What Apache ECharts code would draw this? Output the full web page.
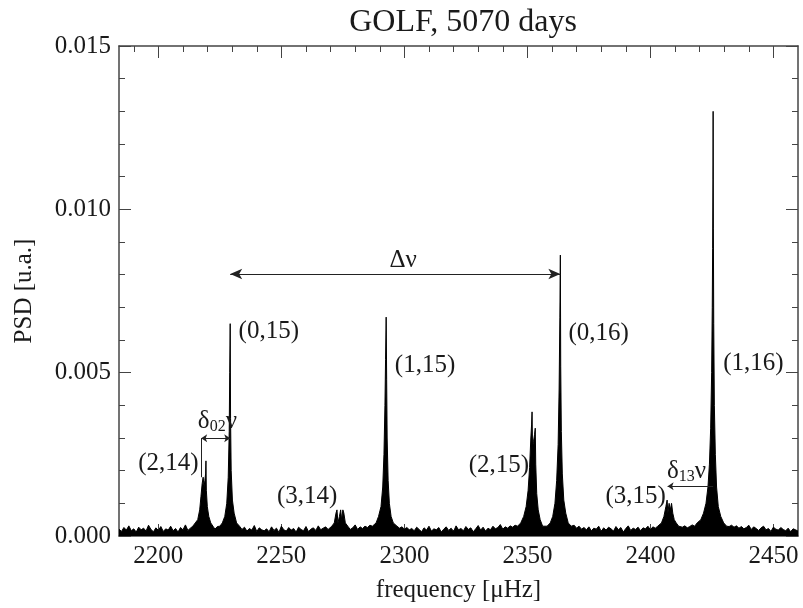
<!DOCTYPE html>
<html lang="en">
<head>
    <meta charset="UTF-8">
    <title>GOLF, 5070 days</title>
    <script src="https://cdn.jsdelivr.net/npm/echarts@6/dist/echarts.min.js"></script>
    <style>
        html, body { margin: 0; padding: 0; background: #fff; }
        #main { width: 803px; height: 608px; }
    </style>
</head>
<body>
<div id="main"></div>
<script type="text/javascript">
    // 背景噪声，每 1 μHz 一个点，从 2184 μHz 开始
    var noiseStart = 2184;
    var noise = [
        0.00021,0.00014,0.00026,0.00018,0.00031,0.00016,0.00022,0.00012,0.00027,0.00019,
        0.00024,0.00015,0.00033,0.00020,0.00013,0.00025,0.00017,0.00029,0.00014,0.00022,
        0.00018,0.00030,0.00016,0.00023,0.00012,0.00026,0.00019,0.00034,0.00017,0.00024,
        0.00028,0.00020,0.00031,0.00022,0.00035,0.00024,0.00019,0.00030,0.00026,0.00021,
        0.00029,0.00023,0.00033,0.00025,0.00036,0.00027,0.00022,0.00030,0.00018,0.00026,
        0.00020,0.00027,0.00015,0.00023,0.00018,0.00032,0.00014,0.00025,0.00019,0.00016,
        0.00022,0.00013,0.00028,0.00017,0.00024,0.00011,0.00030,0.00019,0.00015,0.00026,
        0.00018,0.00023,0.00012,0.00027,0.00020,0.00016,0.00029,0.00014,0.00021,0.00025,
        0.00017,0.00031,0.00019,0.00024,0.00028,0.00022,0.00026,0.00030,0.00033,0.00027,
        0.00029,0.00024,0.00021,0.00032,0.00018,0.00025,0.00034,0.00020,0.00028,0.00023,
        0.00030,0.00026,0.00033,0.00029,0.00036,0.00031,0.00027,0.00034,0.00028,0.00032,
        0.00029,0.00035,0.00027,0.00031,0.00024,0.00028,0.00021,0.00026,0.00019,0.00023,
        0.00016,0.00027,0.00020,0.00013,0.00025,0.00018,0.00030,0.00015,0.00022,0.00019,
        0.00026,0.00012,0.00021,0.00028,0.00017,0.00024,0.00014,0.00031,0.00019,0.00023,
        0.00016,0.00029,0.00020,0.00025,0.00013,0.00022,0.00032,0.00018,0.00027,0.00015,
        0.00024,0.00019,0.00030,0.00022,0.00026,0.00035,0.00021,0.00028,0.00024,0.00031,
        0.00027,0.00033,0.00029,0.00036,0.00030,0.00034,0.00028,0.00032,0.00038,0.00031,
        0.00035,0.00029,0.00033,0.00027,0.00036,0.00030,0.00034,0.00031,0.00037,0.00032,
        0.00034,0.00029,0.00036,0.00031,0.00027,0.00033,0.00024,0.00030,0.00021,0.00026,
        0.00019,0.00028,0.00016,0.00024,0.00021,0.00030,0.00014,0.00025,0.00018,0.00027,
        0.00022,0.00015,0.00029,0.00019,0.00026,0.00012,0.00023,0.00031,0.00017,0.00024,
        0.00020,0.00027,0.00016,0.00025,0.00022,0.00030,0.00019,0.00028,0.00024,0.00033,
        0.00029,0.00034,0.00031,0.00036,0.00033,0.00038,0.00032,0.00035,0.00030,0.00027,
        0.00031,0.00025,0.00029,0.00034,0.00030,0.00036,0.00033,0.00039,0.00035,0.00040,
        0.00037,0.00041,0.00036,0.00039,0.00034,0.00038,0.00032,0.00036,0.00029,0.00033,
        0.00027,0.00031,0.00024,0.00029,0.00022,0.00026,0.00033,0.00020,0.00028,0.00023,
        0.00017,0.00025,0.00030,0.00019,0.00023,0.00014,0.00027,0.00021,0.00018,0.00026,
        0.00020,0.00016,0.00024,0.00013,0.00022,0.00019,0.00015
    ];

    // 各个模式的峰 [频率, PSD]
    var peak214 = [[2214,0.0003],[2215,0.0004],[2216,0.0005],[2216.8,0.0008],[2217.3,0.0012],[2217.8,0.0016],
        [2218.2,0.0018],[2218.6,0.0015],[2218.9,0.0017],[2219.2,0.0019],[2219.35,0.0023],[2219.5,0.0014],
        [2219.9,0.0009],[2220.5,0.0006],[2221.3,0.0004],[2222.2,0.0003]];
    var peak015 = [[2225,0.0003],[2226,0.0004],[2227,0.0006],[2227.8,0.0010],[2228.4,0.0018],[2228.8,0.0032],
        [2229.0,0.0050],[2229.2,0.0065],[2229.35,0.0036],[2229.6,0.0020],[2230.1,0.0011],[2230.8,0.0007],
        [2231.8,0.0004],[2233,0.0003]];
    var peak314 = [[2269,0.0002],[2270.5,0.0003],[2271.5,0.0004],[2272.2,0.0007],[2272.6,0.0008],[2273.0,0.0004],
        [2273.6,0.0006],[2274.1,0.0008],[2274.5,0.0005],[2275.0,0.0008],[2275.4,0.0007],[2276.0,0.0004],
        [2277,0.0003],[2278,0.0002]];
    var peak115 = [[2287,0.0003],[2288.5,0.0004],[2289.5,0.0006],[2290.5,0.0009],[2291.2,0.0015],[2291.7,0.0025],
        [2292.1,0.0040],[2292.35,0.0054],[2292.6,0.0067],[2292.8,0.0048],[2293.0,0.0030],[2293.4,0.0017],
        [2293.9,0.0010],[2294.6,0.0006],[2295.5,0.0004],[2297,0.0003]];
    var peak215 = [[2346,0.0003],[2347.3,0.0004],[2348.5,0.0006],[2349.5,0.0009],[2350.3,0.0014],[2350.9,0.0021],
        [2351.4,0.0030],[2351.7,0.0034],[2351.9,0.0038],[2352.1,0.0027],[2352.5,0.0029],[2352.9,0.0031],
        [2353.2,0.0033],[2353.4,0.0022],[2353.8,0.0013],[2354.4,0.0008],[2355.2,0.0005],[2356.2,0.0003]];
    var peak016 = [[2358,0.0003],[2359.3,0.0004],[2360.3,0.0006],[2361.2,0.0010],[2361.9,0.0017],[2362.5,0.0028],
        [2362.9,0.0045],[2363.2,0.0067],[2363.4,0.0086],[2363.55,0.0052],[2363.8,0.0032],[2364.2,0.0019],
        [2364.8,0.0011],[2365.6,0.0007],[2366.6,0.0004],[2367.8,0.0003]];
    var peak315 = [[2403,0.0003],[2404.5,0.0004],[2405.5,0.0006],[2406.3,0.0009],[2406.8,0.0011],[2407.1,0.0007],
        [2407.6,0.0010],[2408.1,0.0008],[2408.6,0.0010],[2409.1,0.0007],[2409.7,0.0005],[2410.5,0.0004],
        [2411.5,0.0003]];
    var peak116 = [[2419,0.0004],[2420.5,0.0005],[2421.6,0.0007],[2422.6,0.0010],[2423.4,0.0015],[2424.0,0.0022],
        [2424.5,0.0033],[2424.9,0.0050],[2425.15,0.0070],[2425.3,0.0088],[2425.42,0.0109],[2425.5,0.0130],
        [2425.6,0.0094],[2425.75,0.0065],[2426.0,0.0040],[2426.4,0.0025],[2426.9,0.0015],[2427.6,0.0009],
        [2428.6,0.0006],[2429.8,0.0004],[2431,0.0003]];

    // 模式标注 [文字, 频率, PSD]
    var modeLabels = [
        ['(2,14)', 2204.1, 0.00223],
        ['(0,15)', 2244.9, 0.00625],
        ['(3,14)', 2260.5, 0.00122],
        ['(1,15)', 2308.4, 0.00521],
        ['(2,15)', 2338.4, 0.00216],
        ['(0,16)', 2379.0, 0.00619],
        ['(3,15)', 2394.0, 0.00122],
        ['(1,16)', 2441.9, 0.00527]
    ];

    var xMajor = [2200, 2250, 2300, 2350, 2400, 2450];
    var xMinor = [2190, 2200, 2210, 2220, 2230, 2240, 2250, 2260, 2270, 2280, 2290, 2300, 2310, 2320,
        2330, 2340, 2350, 2360, 2370, 2380, 2390, 2400, 2410, 2420, 2430, 2440, 2450];

    var peaks = [peak214, peak015, peak314, peak115, peak215, peak016, peak315, peak116];
    var spectrum = [];
    for (var i = 0; i < noise.length; i++) {
        var f = noiseStart + i;
        var inPeak = false;
        for (var j = 0; j < peaks.length; j++) {
            if (f >= peaks[j][0][0] && f <= peaks[j][peaks[j].length - 1][0]) inPeak = true;
        }
        if (!inPeak) spectrum.push([f, noise[i]]);
    }
    peaks.forEach(function (p) { spectrum = spectrum.concat(p); });
    spectrum.sort(function (a, b) { return a[0] - b[0]; });

    var serif = 'Liberation Serif';
    var txt = '#1a1a1a';
    var frame = '#444';

    var labelPoints = modeLabels.map(function (m) {
        return {name: m[0], coord: [m[1], m[2]]};
    });
    labelPoints.push({name: 'dnu', coord: [2299.5, 0.00845],
        label: {formatter: '{d|Δν}'}});
    labelPoints.push({name: 'd02', coord: [2224.0, 0.00352],
        label: {formatter: '{d|δ}{s|02}{d|ν}'}});
    labelPoints.push({name: 'd13', coord: [2414.7, 0.00199],
        label: {formatter: '{d|δ}{s|13}{d|ν}'}});

    var richText = {
        d: {fontSize: 25, fontFamily: serif, color: txt, lineHeight: 28},
        s: {fontSize: 16, fontFamily: serif, color: txt, lineHeight: 28, verticalAlign: 'bottom', padding: [10, 0, 0, 0]}
    };

    var myChart = echarts.init(document.getElementById('main'));
    var option = {
        animation: false,
        title: {
            text: 'GOLF, 5070 days',
            left: 458,
            top: 2,
            textAlign: 'center',
            textStyle: {fontFamily: serif, fontSize: 32, fontWeight: 'normal', color: txt}
        },
        grid: {left: 119, right: 5, top: 46, bottom: 70},
        xAxis: [
            {
                type: 'value', min: 2184, max: 2460, position: 'bottom',
                name: 'frequency [μHz]', nameLocation: 'middle', nameGap: 42,
                nameTextStyle: {fontFamily: serif, fontSize: 25, color: txt},
                axisLine: {lineStyle: {color: frame, width: 1.5}},
                axisTick: {inside: true, length: 12, customValues: xMajor, lineStyle: {color: frame}},
                axisLabel: {
                    customValues: xMajor, margin: 8, fontFamily: serif, fontSize: 25, color: txt,
                    formatter: function (v) { return String(v); }
                },
                splitLine: {show: false}
            },
            {
                type: 'value', min: 2184, max: 2460, position: 'bottom',
                axisLine: {show: false},
                axisTick: {inside: true, length: 6, customValues: xMinor, lineStyle: {color: frame}},
                axisLabel: {show: false},
                splitLine: {show: false}
            },
            {
                type: 'value', min: 2184, max: 2460, position: 'top',
                axisLine: {lineStyle: {color: frame, width: 1.5}},
                axisTick: {inside: true, length: 12, customValues: xMajor, lineStyle: {color: frame}},
                axisLabel: {show: false},
                splitLine: {show: false}
            },
            {
                type: 'value', min: 2184, max: 2460, position: 'top',
                axisLine: {show: false},
                axisTick: {inside: true, length: 6, customValues: xMinor, lineStyle: {color: frame}},
                axisLabel: {show: false},
                splitLine: {show: false}
            }
        ],
        yAxis: [
            {
                type: 'value', min: 0, max: 0.015, interval: 0.005, position: 'left',
                name: 'PSD [u.a.]', nameLocation: 'middle', nameGap: 82,
                nameTextStyle: {fontFamily: serif, fontSize: 25, color: txt},
                axisLine: {show: true, lineStyle: {color: frame, width: 1.5}},
                axisTick: {show: true, inside: true, length: 12, lineStyle: {color: frame}},
                minorTick: {show: true, splitNumber: 5, length: 6, lineStyle: {color: frame}},
                axisLabel: {
                    margin: 8, fontFamily: serif, fontSize: 25, color: txt,
                    formatter: function (v) { return v.toFixed(3); }
                },
                splitLine: {show: false}
            },
            {
                type: 'value', min: 0, max: 0.015, interval: 0.005, position: 'right',
                axisLine: {show: true, lineStyle: {color: frame, width: 1.5}},
                axisTick: {show: true, inside: true, length: 12, lineStyle: {color: frame}},
                minorTick: {show: true, splitNumber: 5, length: 6, lineStyle: {color: frame}},
                axisLabel: {show: false},
                splitLine: {show: false}
            }
        ],
        series: [
            {
                name: 'PSD',
                type: 'line',
                xAxisIndex: 0,
                yAxisIndex: 0,
                data: spectrum,
                showSymbol: false,
                sampling: 'none',
                lineStyle: {color: '#000', width: 1},
                areaStyle: {color: '#000', opacity: 1},
                z: 2,
                markPoint: {
                    symbol: 'circle',
                    symbolSize: 1,
                    itemStyle: {color: 'rgba(0,0,0,0)'},
                    label: {
                        show: true, position: 'inside', formatter: '{b}',
                        fontFamily: serif, fontSize: 25, color: txt, rich: richText
                    },
                    data: labelPoints
                },
                markLine: {
                    silent: true,
                    symbol: ['none', 'none'],
                    label: {show: false},
                    lineStyle: {color: '#222', width: 1, type: 'solid'},
                    data: [
                        [{coord: [2229.2, 0.00802], symbol: 'arrow', symbolSize: [8, 12]},
                         {coord: [2363.4, 0.00802], symbol: 'arrow', symbolSize: [8, 12]}],
                        [{coord: [2217.4, 0.00299], symbol: 'arrow', symbolSize: [6, 6]},
                         {coord: [2229.2, 0.00299], symbol: 'arrow', symbolSize: [6, 6]}],
                        [{coord: [2217.4, 0.00299]}, {coord: [2217.4, 0.0018]}],
                        [{coord: [2407.0, 0.00152], symbol: 'arrow', symbolSize: [6, 6]},
                         {coord: [2425.5, 0.00152]}]
                    ]
                }
            }
        ]
    };

    myChart.setOption(option);
</script>
</body>
</html>
